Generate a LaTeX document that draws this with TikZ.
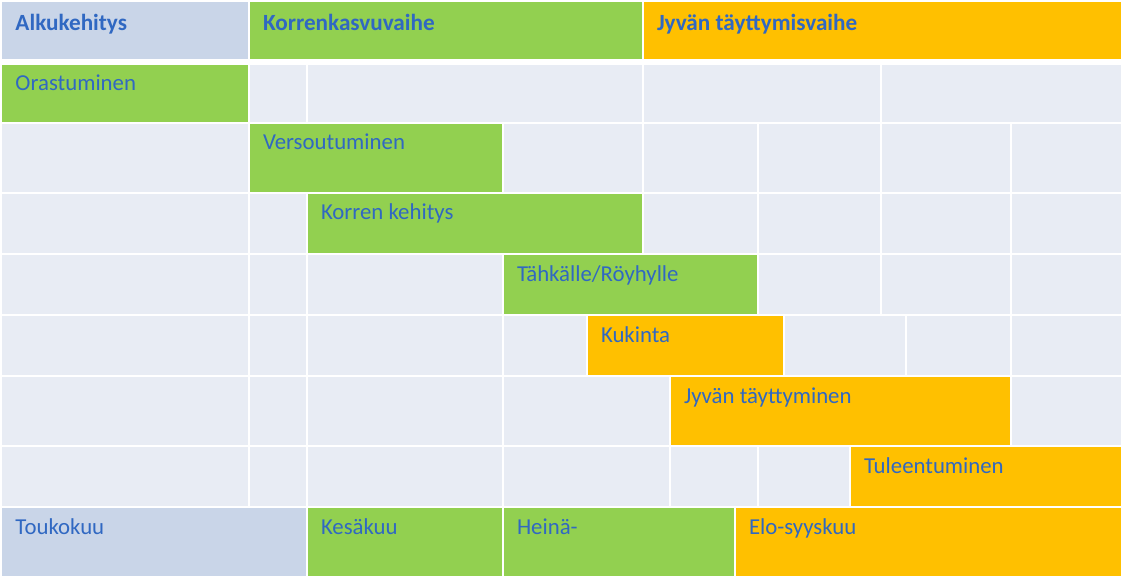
\documentclass[tikz,border=0pt]{standalone}
\usepackage{fontspec}
\setmainfont{Carlito}
\usetikzlibrary{calc}
\definecolor{hdrblue}{HTML}{C9D5E8}
\definecolor{cellgray}{HTML}{E8ECF4}
\definecolor{stagegreen}{HTML}{92D050}
\definecolor{stageorange}{HTML}{FFC000}
\definecolor{txtblue}{HTML}{3068C2}
\tikzset{
  cellbox/.style={draw=none, inner sep=0pt, outer sep=0pt, anchor=north west},
  lbl/.style={inner sep=0pt, outer sep=0pt, anchor=base west, text=txtblue, font=\fontsize{22.8}{26}\selectfont},
  hlbl/.style={lbl, font=\fontsize{23.2}{26}\selectfont\bfseries}
}
% \cl{name}{x1}{y1}{x2}{y2}{colour}
\newcommand{\cl}[6]{\node[cellbox, fill=#6, minimum width=#4pt-#2pt, minimum height=#5pt-#3pt] (#1) at (#2,#3) {};}
\newcommand{\tx}[2]{\node[lbl] (#1-t) at ($(#1.north west)+(13.5,26)$) {#2};}
\newcommand{\htx}[2]{\node[hlbl] (#1-t) at ($(#1.north west)+(13.5,28.5)$) {#2};}
\begin{document}
\begin{tikzpicture}[x=1pt, y=-1pt]
\fill[white] (0,0) rectangle (1123,577);
\useasboundingbox (0,0) rectangle (1123,577);
% header row
\cl{h1}{2}{2}{247.5}{59}{hdrblue}
\cl{h2}{249.5}{2}{641.5}{59}{stagegreen}
\cl{h3}{643.5}{2}{1121}{59}{stageorange}
\htx{h1}{Alkukehitys}
\htx{h2}{Korrenkasvuvaihe}
\htx{h3}{Jyvän täyttymisvaihe}
% row 1
\cl{a1}{2}{65}{247.5}{122}{stagegreen}
\cl{a2}{249.5}{65}{305.5}{122}{cellgray}
\cl{a3}{307.5}{65}{641.5}{122}{cellgray}
\cl{a4}{643.5}{65}{879.5}{122}{cellgray}
\cl{a5}{881.5}{65}{1121}{122}{cellgray}
\tx{a1}{Orastuminen}
% row 2
\cl{b1}{2}{124}{247.5}{192}{cellgray}
\cl{b2}{249.5}{124}{501.5}{192}{stagegreen}
\cl{b3}{503.5}{124}{641.5}{192}{cellgray}
\cl{b4}{643.5}{124}{756.5}{192}{cellgray}
\cl{b5}{758.5}{124}{879.5}{192}{cellgray}
\cl{b6}{881.5}{124}{1009.5}{192}{cellgray}
\cl{b7}{1011.5}{124}{1121}{192}{cellgray}
\tx{b2}{Versoutuminen}
% row 3
\cl{c1}{2}{194}{247.5}{253}{cellgray}
\cl{c2}{249.5}{194}{305.5}{253}{cellgray}
\cl{c3}{307.5}{194}{641.5}{253}{stagegreen}
\cl{c4}{643.5}{194}{756.5}{253}{cellgray}
\cl{c5}{758.5}{194}{879.5}{253}{cellgray}
\cl{c6}{881.5}{194}{1009.5}{253}{cellgray}
\cl{c7}{1011.5}{194}{1121}{253}{cellgray}
\tx{c3}{Korren kehitys}
% row 4
\cl{d1}{2}{255}{247.5}{314}{cellgray}
\cl{d2}{249.5}{255}{305.5}{314}{cellgray}
\cl{d3}{307.5}{255}{501.5}{314}{cellgray}
\cl{d4}{503.5}{255}{756.5}{314}{stagegreen}
\cl{d5}{758.5}{255}{879.5}{314}{cellgray}
\cl{d6}{881.5}{255}{1009.5}{314}{cellgray}
\cl{d7}{1011.5}{255}{1121}{314}{cellgray}
\tx{d4}{Tähkälle/Röyhylle}
% row 5
\cl{e1}{2}{316}{247.5}{375}{cellgray}
\cl{e2}{249.5}{316}{305.5}{375}{cellgray}
\cl{e3}{307.5}{316}{501.5}{375}{cellgray}
\cl{e4}{503.5}{316}{585.5}{375}{cellgray}
\cl{e5}{587.5}{316}{782.5}{375}{stageorange}
\cl{e6}{784.5}{316}{904.5}{375}{cellgray}
\cl{e7}{906.5}{316}{1009.5}{375}{cellgray}
\cl{e8}{1011.5}{316}{1121}{375}{cellgray}
\tx{e5}{Kukinta}
% row 6
\cl{f1}{2}{377}{247.5}{445}{cellgray}
\cl{f2}{249.5}{377}{305.5}{445}{cellgray}
\cl{f3}{307.5}{377}{501.5}{445}{cellgray}
\cl{f4}{503.5}{377}{668.5}{445}{cellgray}
\cl{f5}{670.5}{377}{1009.5}{445}{stageorange}
\cl{f6}{1011.5}{377}{1121}{445}{cellgray}
\tx{f5}{Jyvän täyttyminen}
% row 7
\cl{g1}{2}{447}{247.5}{506}{cellgray}
\cl{g2}{249.5}{447}{305.5}{506}{cellgray}
\cl{g3}{307.5}{447}{501.5}{506}{cellgray}
\cl{g4}{503.5}{447}{668.5}{506}{cellgray}
\cl{g5}{670.5}{447}{756.5}{506}{cellgray}
\cl{g6}{758.5}{447}{848.5}{506}{cellgray}
\cl{g7}{850.5}{447}{1121}{506}{stageorange}
\tx{g7}{Tuleentuminen}
% months row
\cl{m1}{2}{508}{305.5}{576}{hdrblue}
\cl{m2}{307.5}{508}{501.5}{576}{stagegreen}
\cl{m3}{503.5}{508}{733.5}{576}{stagegreen}
\cl{m4}{735.5}{508}{1121}{576}{stageorange}
\tx{m1}{Toukokuu}
\tx{m2}{Kesäkuu}
\tx{m3}{Heinä-}
\tx{m4}{Elo-syyskuu}
\end{tikzpicture}
\end{document}
